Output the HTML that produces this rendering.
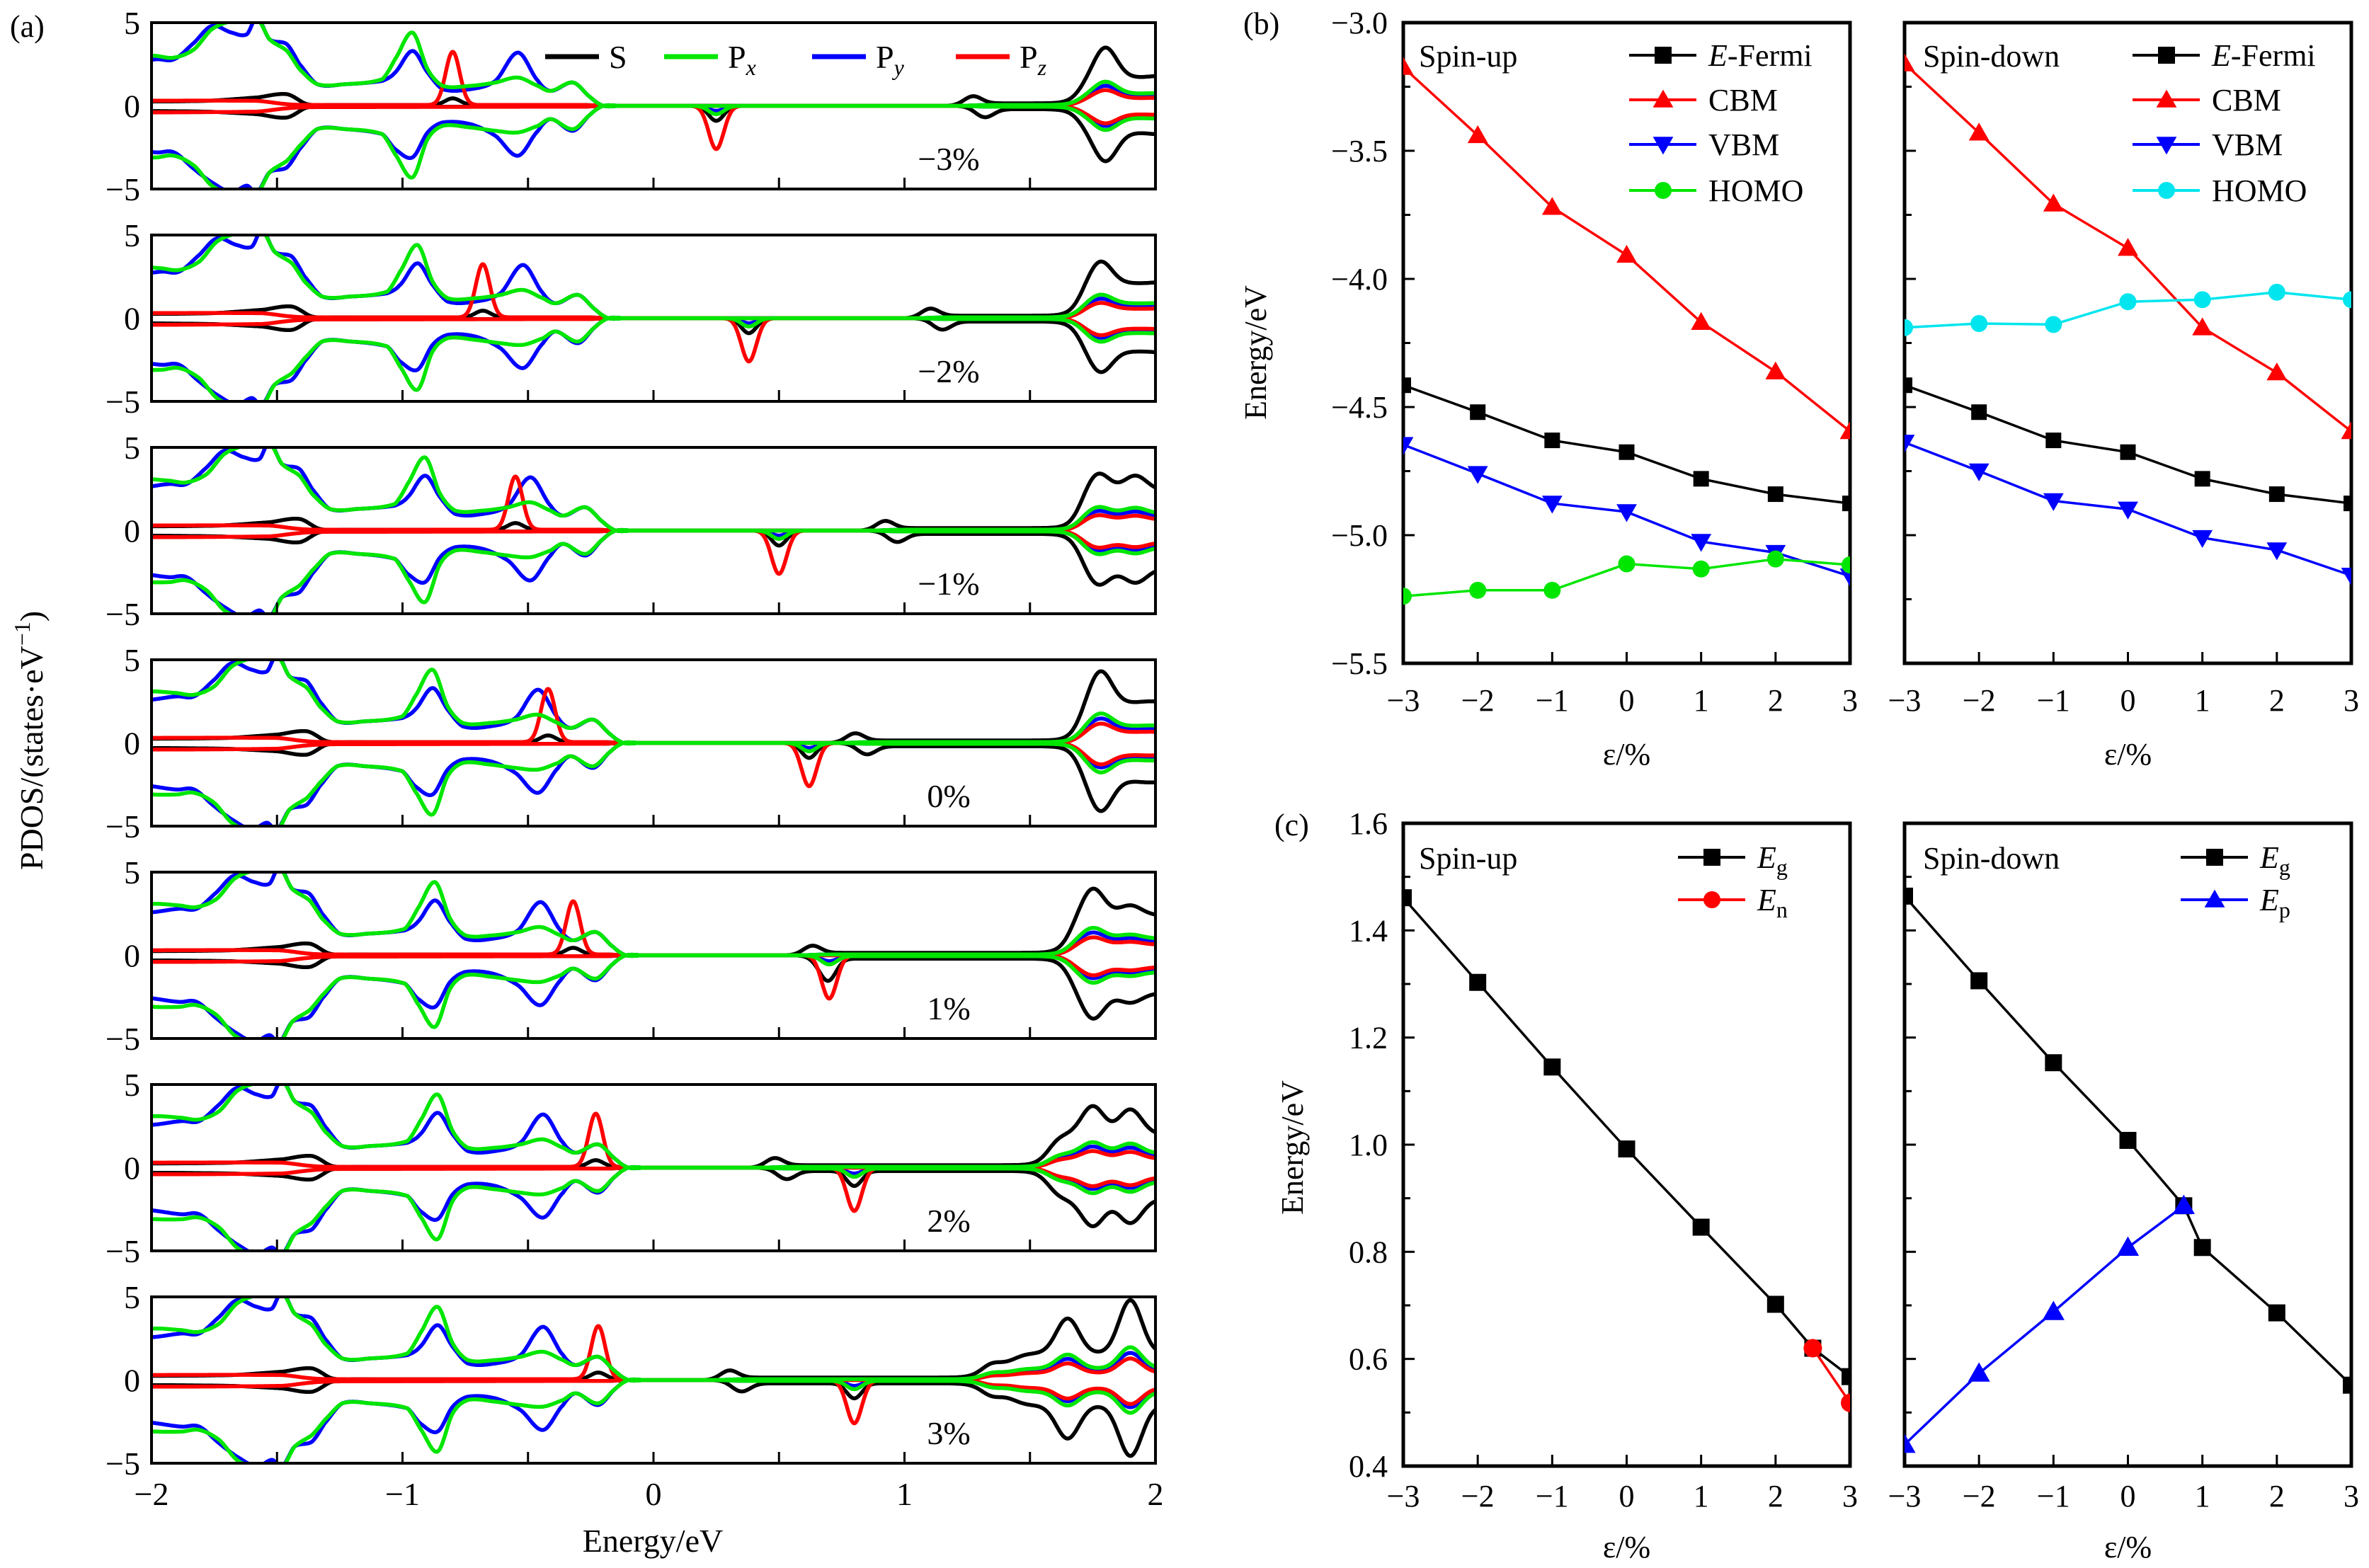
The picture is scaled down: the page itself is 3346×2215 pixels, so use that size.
<!DOCTYPE html>
<html><head><meta charset="utf-8"><style>
html,body{margin:0;padding:0;background:#fff}
svg{display:block;font-family:"Liberation Serif",serif}
</style></head><body>
<svg id="fig" xmlns="http://www.w3.org/2000/svg" width="3346" height="2215" viewBox="0 0 3346 2215">
<rect width="3346" height="2215" fill="#fff"/>
<g id="pa"></g>
<g id="pb"></g>
<g id="pc"></g>
</svg>
<script>
// ---------- Panel (a) data ----------
const strains = ['−3%','−2%','−1%','0%','1%','2%','3%'];
const pdosE = [-2.1,-2.0,-1.9,-1.83,-1.75,-1.68,-1.6,-1.54,-1.5,-1.45,-1.38,-1.33,-1.26,-1.15,-1.0,-0.95,-0.88,-0.82,-0.76,-0.65,-0.55,-0.46,-0.38,-0.33,-0.24,-0.17,-0.12,-0.05,0];
const pyUp = [2.5,2.6,2.8,2.8,3.8,4.8,4.4,4.3,5.3,4.0,3.7,2.5,1.3,1.3,1.5,2.0,3.3,2.0,1.0,1.0,1.5,3.2,1.5,0.9,1.4,0.5,0,0,0];
const pxUp = [3.0,3.1,3.0,2.9,3.4,4.6,5.1,5.2,5.3,4.0,3.3,2.2,1.3,1.3,1.6,2.8,4.4,2.2,1.2,1.2,1.4,1.7,1.2,0.9,1.4,0.5,0,0,0];
const pyDn = [-2.4,-2.6,-2.8,-2.8,-3.8,-4.6,-5.2,-4.8,-5.2,-4.0,-3.7,-2.6,-1.4,-1.4,-1.7,-2.6,-3.1,-1.6,-1.0,-1.1,-1.8,-3.0,-1.5,-0.8,-1.5,-0.5,0,0,0];
const pxDn = [-3.0,-3.1,-3.1,-3.0,-3.6,-4.8,-5.3,-5.3,-5.3,-4.0,-3.3,-2.4,-1.4,-1.4,-1.7,-2.9,-4.3,-2.0,-1.2,-1.3,-1.5,-1.6,-1.2,-0.8,-1.4,-0.5,0,0,0];
const sE = [-2.1,-1.7,-1.5,-1.38,-1.3,-1.2,-0.2,-0.1];
const sUp = [0.25,0.3,0.5,0.7,0.1,0.05,0.05,0];
const sDn = [-0.3,-0.35,-0.5,-0.7,-0.1,-0.05,-0.05,0];
const pzE = [-2.1,-1.5,-1.38,-1.3,-0.2,-0.1];
const pzUpV = [0.3,0.3,0.1,0.05,0.05,0];
const pzDnV = [-0.4,-0.35,-0.15,-0.08,-0.05,0];
const vShift = [-0.08,-0.06,-0.03,0,0.01,0.02,0.02];
const pzPeakUp = [-0.80,-0.68,-0.55,-0.42,-0.32,-0.23,-0.22];
const pzDipDn = [0.25,0.38,0.50,0.62,0.70,0.80,0.80];
const cbBump = [1.27,1.10,0.92,0.80,0.63,0.48,0.30];
const cbOnset = [1.70,1.70,1.70,1.70,1.66,1.58,1.32];
const cbPlat = [1.7,2.1,2.4,2.4,2.4,2.0,1.6];
const cbPeakE = [[1.80,2.02],[1.78,2.05],[1.77,1.92],[1.78,1.98],[1.75,1.90],[1.60,1.75,1.90],[1.40,1.65,1.90]];
const cbPeakH = [[3.5,1.8],[3.4,2.2],[3.4,3.3],[4.3,2.5],[4.0,3.0],[1.5,3.7,3.5],[1.1,3.7,4.8]];
const aTicks = [-2,-1,0,1,2];

// ---------- Panel (b) data ----------
const strainX = [-3,-2,-1,0,1,2,3];
const bTicks = [-3.0,-3.5,-4.0,-4.5,-5.0,-5.5];
const upFermi = [-4.415,-4.52,-4.63,-4.676,-4.78,-4.84,-4.876];
const upCBM = [-3.174,-3.44,-3.72,-3.907,-4.169,-4.362,-4.595];
const upVBM = [-4.647,-4.76,-4.876,-4.909,-5.025,-5.068,-5.16];
const upHOMO = [-5.238,-5.215,-5.215,-5.112,-5.132,-5.093,-5.116];
const dnFermi = [-4.415,-4.52,-4.63,-4.676,-4.78,-4.84,-4.876];
const dnCBM = [-3.16,-3.43,-3.707,-3.88,-4.19,-4.366,-4.595];
const dnVBM = [-4.638,-4.75,-4.866,-4.899,-5.01,-5.058,-5.157];
const dnHOMO = [-4.19,-4.174,-4.178,-4.089,-4.081,-4.052,-4.081];

// ---------- Panel (c) data ----------
const cTicks = [1.6,1.4,1.2,1.0,0.8,0.6,0.4];
const upEgX = [-3,-2,-1,0,1,2,2.5,3];
const upEg = [1.461,1.303,1.145,0.992,0.846,0.702,0.62,0.567];
const upEnX = [2.5,3];
const upEn = [0.62,0.518];
const dnEgX = [-3,-2,-1,0,0.75,1,2,3];
const dnEg = [1.464,1.306,1.153,1.008,0.886,0.808,0.686,0.551];
const dnEpX = [-3,-2,-1,0,0.75];
const dnEp = [0.44,0.573,0.688,0.808,0.886];

const NS='http://www.w3.org/2000/svg';
function mk(tag, attrs, parent){const e=document.createElementNS(NS,tag);for(const k in attrs)e.setAttribute(k,attrs[k]);if(parent)parent.appendChild(e);return e;}
function txt(parent,x,y,s,size,anchor,extra){const t=mk('text',Object.assign({x:x,y:y,'font-size':size,'text-anchor':anchor||'start',fill:'#000'},extra||{}),parent);t.innerHTML=s;return t;}

// ---------- draw (a) ----------
const pa=document.getElementById('pa');
const AX0=214, AX1=1632, AH=235, ATOP0=32, ASTEP=300;
const ax = e => AX0 + (e+2)*(AX1-AX0)/4;
function interp(E,V,x){ if(x<=E[0]) return V[0]; if(x>=E[E.length-1]) return V[V.length-1];
  let i=0; while(E[i+1]<x) i++;
  const t=(x-E[i])/(E[i+1]-E[i]);
  const p0=V[Math.max(i-1,0)],p1=V[i],p2=V[i+1],p3=V[Math.min(i+2,V.length-1)];
  const t2=t*t,t3=t2*t;
  return 0.5*((2*p1)+(-p0+p2)*t+(2*p0-5*p1+4*p2-p3)*t2+(-p0+3*p1-3*p2+p3)*t3);}
const g=(e,c,s)=>Math.exp(-0.5*((e-c)/s)*((e-c)/s));
const sm=(e,c,w)=>1/(1+Math.exp(-(e-c)/w));
function cbS(i,e){let v=cbPlat[i]*sm(e,cbOnset[i],0.025);
  cbPeakE[i].forEach((p,k)=>{v+=(cbPeakH[i][k]-cbPlat[i]*sm(p,cbOnset[i],0.025))*g(e,p,0.045);});return v;}
function val(i,sp,up,e){
  const ev=e-vShift[i];
  let v=0;
  if(sp==='S'){v=interp(sE,up?sUp:sDn,ev);
    if(up){v+=0.4*g(e,pzPeakUp[i],0.03);v+=0.5*g(e,cbBump[i],0.035);v+=0.15*sm(e,cbBump[i],0.02)*(1-sm(e,cbOnset[i],0.02));v+=cbS(i,e);}
    else{v-=0.9*g(e,pzDipDn[i],0.03);v-=0.5*g(e,cbBump[i]+0.05,0.035);v-=0.2*sm(e,cbBump[i],0.02)*(1-sm(e,cbOnset[i],0.02));v-=0.95*cbS(i,e);}
  } else if(sp==='Pz'){v=interp(pzE,up?pzUpV:pzDnV,ev);
    if(up){v+=3.2*g(e,pzPeakUp[i],0.028);v+=0.27*cbS(i,e);}
    else{v-=2.6*g(e,pzDipDn[i],0.03);v-=0.3*cbS(i,e);}
  } else {
    const arr = sp==='Px'?(up?pxUp:pxDn):(up?pyUp:pyDn);
    v = ev<0?interp(pdosE,arr,ev):0;
    const sc = sp==='Px'?0.4:0.33;
    if(up){v+=sc*cbS(i,e);v+=0.05*sm(e,cbBump[i],0.02);}
    else{v-=(sp==='Px'?0.5:0.3)*g(e,pzDipDn[i],0.03);v-=sc*cbS(i,e);v-=0.05*sm(e,cbBump[i],0.02);}
  }
  return v;}
const seriesDef=[['S','#000'],['Py','#0000ff'],['Pz','#ff0000'],['Px','#00e600']];
const defs=mk('defs',{},document.getElementById('fig'));
for(let i=0;i<7;i++){
  const top=ATOP0+i*ASTEP, ay=v=>top+AH/2 - v*(AH/10);
  const cp=mk('clipPath',{id:'clipA'+i},defs); mk('rect',{x:AX0,y:top,width:AX1-AX0,height:AH},cp);
  const grp=mk('g',{'clip-path':'url(#clipA'+i+')'},pa);
  
  
  seriesDef.forEach(([sp,col])=>{[true,false].forEach(up=>{
    let d='';for(let e=-2.02;e<=2.02;e+=0.004){const y=ay(val(i,sp,up,e));d+=(d?'L':'M')+ax(e).toFixed(1)+' '+y.toFixed(1);}
    const p=mk('path',{d:d,fill:'none',stroke:col,'stroke-width':5.5,'stroke-linejoin':'round'},grp);
    
    
  });});
  const fr=mk('rect',{x:AX0,y:top,width:AX1-AX0,height:AH,fill:'none',stroke:'#000','stroke-width':4},pa);
  
  
  for(let e=-1.5;e<2;e+=0.5){mk('line',{x1:ax(e),x2:ax(e),y1:top+AH,y2:top+AH-16,stroke:'#000','stroke-width':3},pa);}
  [[5,'5'],[0,'0'],[-5,'−5']].forEach(([v,s])=>{const t=txt(pa,198,ay(v)+16,s,46,'end');
    
    });
  const sl=txt(pa,1340,top+208,strains[i],46,'middle');
  
  
}
aTicks.forEach(v=>{const t=txt(pa,ax(v),2126,v<0?'−'+(-v):String(v),46,'middle');
  
  });
{const t=txt(pa,922,2192,'Energy/eV',46,'middle');}
{const t=txt(pa,0,0,'PDOS/(states·eV<tspan font-size="32" dy="-18">−1</tspan><tspan dy="18">)</tspan>',46,'middle',{transform:'translate(60,1046) rotate(-90)'});}
{const t=txt(pa,14,52,'(a)',44,'start');}
// legend (a)
[['S','#000',770,'S'],['Px','#00e600',938,'P<tspan font-size="32" dy="10" font-style="italic">x</tspan>'],['Py','#0000ff',1147,'P<tspan font-size="32" dy="10" font-style="italic">y</tspan>'],['Pz','#ff0000',1350,'P<tspan font-size="32" dy="10" font-style="italic">z</tspan>']].forEach(([n,c,x,s])=>{
  const l=mk('line',{x1:x,x2:x+76,y1:80,y2:80,stroke:c,'stroke-width':7},pa);
  
  
  const t=txt(pa,x+90,96,s,46,'start');
  
  
});

// ---------- helpers for b/c ----------
function marker(parent,type,x,y,col,sz){
  let m;
  if(type==='sq') m=mk('rect',{x:x-sz/2,y:y-sz/2,width:sz,height:sz,fill:col},parent);
  else if(type==='ci') m=mk('circle',{cx:x,cy:y,r:sz/2,fill:col},parent);
  else if(type==='tu') m=mk('polygon',{points:`${x},${y-sz*0.6} ${x-sz*0.6},${y+sz*0.45} ${x+sz*0.6},${y+sz*0.45}`,fill:col},parent);
  else m=mk('polygon',{points:`${x},${y+sz*0.6} ${x-sz*0.6},${y-sz*0.45} ${x+sz*0.6},${y-sz*0.45}`,fill:col},parent);
  
  
}
function series(parent,clipId,xf,yf,X,Y,col,type,sz,name){
  const g2=mk('g',{'clip-path':'url(#'+clipId+')'},parent);
  
  
  const pts=X.map((v,k)=>xf(v).toFixed(1)+','+yf(Y[k]).toFixed(1)).join(' ');
  const pl=mk('polyline',{points:pts,fill:'none',stroke:col,'stroke-width':3.5},g2);
  
  
  X.forEach((v,k)=>marker(g2,type,xf(v),yf(Y[k]),col,sz));
}
function frame(parent,L,R,T,B,clipId,name){
  const cp=mk('clipPath',{id:clipId},defs);mk('rect',{x:L,y:T,width:R-L,height:B-T},cp);
  const r=mk('rect',{x:L,y:T,width:R-L,height:B-T,fill:'none',stroke:'#000','stroke-width':5},parent);
  
  
}
function legendRow(parent,x,y,col,type,label,name){
  const l=mk('line',{x1:x,x2:x+95,y1:y,y2:y,stroke:col,'stroke-width':4},parent);
  
  
  marker(parent,type,x+48,y,col,24);
  const t=txt(parent,x+112,y+15,label,44,'start');
  
  
}
const PL=[1982,2690], PW=631;
const sx=(v,L)=>L+(v+3)*PW/6;

// ---------- draw (b) ----------
const pb=document.getElementById('pb');
const BT=32,BB=937; const yb=v=>BT+(-3-v)*(BB-BT)/2.5;
[0,1].forEach(p=>{
  const L=PL[p],R=L+PW;
  frame(pb,L,R,BT,BB,'clipB'+p,p?'spin-down-frame-b':'spin-up-frame-b');
  for(let v=-3.25;v>-5.5;v-=0.25){mk('line',{x1:L,x2:L+(Math.abs((v*2)%1)<1e-6?16:10),y1:yb(v),y2:yb(v),stroke:'#000','stroke-width':3},pb);}
  strainX.slice(1,6).forEach(v=>mk('line',{x1:sx(v,L),x2:sx(v,L),y1:BB,y2:BB-16,stroke:'#000','stroke-width':3},pb));
  strainX.forEach(v=>{const t=txt(pb,sx(v,L),1004,v<0?'−'+(-v):String(v),44,'middle');
    
    });
  const xt=txt(pb,L+PW/2,1080,'ε/%',44,'middle');
  
  
  const xf=v=>sx(v,L);
  const D=p?[dnFermi,dnCBM,dnVBM,dnHOMO]:[upFermi,upCBM,upVBM,upHOMO];
  const hc=p?'#00e5ee':'#00e600';
  series(pb,'clipB'+p,xf,yb,strainX,D[0],'#000','sq',22,'e-fermi-series');
  series(pb,'clipB'+p,xf,yb,strainX,D[1],'#ff0000','tu',24,'cbm-series');
  series(pb,'clipB'+p,xf,yb,strainX,D[2],'#0000ff','td',24,'vbm-series');
  series(pb,'clipB'+p,xf,yb,strainX,D[3],hc,'ci',24,'homo-series');
  const st=txt(pb,p?2716:2004,94,p?'Spin-down':'Spin-up',44,'start');
  
  
  const lx=p?3012:2301;
  legendRow(pb,lx,78,'#000','sq','<tspan font-style="italic">E</tspan>-Fermi','legend-e-fermi');
  legendRow(pb,lx,141,'#ff0000','tu','CBM','legend-cbm');
  legendRow(pb,lx,204,'#0000ff','td','VBM','legend-vbm');
  legendRow(pb,lx,269,hc,'ci','HOMO','legend-homo');
});
bTicks.forEach(v=>{const t=txt(pb,1960,yb(v)+15,'−'+(-v).toFixed(1),44,'end');
  
  });
{const t=txt(pb,0,0,'Energy/eV',44,'middle',{transform:'translate(1788,498) rotate(-90)'});}
{const t=txt(pb,1756,48,'(b)',44,'start');}

// ---------- draw (c) ----------
const pc=document.getElementById('pc');
const CT=1163,CB=2071; const yc=v=>CT+(1.6-v)*(CB-CT)/1.2;
[0,1].forEach(p=>{
  const L=PL[p],R=L+PW;
  frame(pc,L,R,CT,CB,'clipC'+p,p?'spin-down-frame-c':'spin-up-frame-c');
  for(let k=1;k<12;k++){const v=1.6-k*0.1;mk('line',{x1:L,x2:L+(k%2===0?16:10),y1:yc(v),y2:yc(v),stroke:'#000','stroke-width':3},pc);}
  strainX.slice(1,6).forEach(v=>mk('line',{x1:sx(v,L),x2:sx(v,L),y1:CB,y2:CB-16,stroke:'#000','stroke-width':3},pc));
  strainX.forEach(v=>{const t=txt(pc,sx(v,L),2128,v<0?'−'+(-v):String(v),44,'middle');
    
    });
  const xt=txt(pc,L+PW/2,2200,'ε/%',44,'middle');
  
  
  const xf=v=>sx(v,L);
  if(!p){
    series(pc,'clipC0',xf,yc,upEgX,upEg,'#000','sq',24,'eg-series-up');
    series(pc,'clipC0',xf,yc,upEnX,upEn,'#ff0000','ci',26,'en-series');
  } else {
    series(pc,'clipC1',xf,yc,dnEgX,dnEg,'#000','sq',24,'eg-series-down');
    series(pc,'clipC1',xf,yc,dnEpX,dnEp,'#0000ff','tu',26,'ep-series');
  }
  const st=txt(pc,p?2716:2004,1227,p?'Spin-down':'Spin-up',44,'start');
  
  
  const lx=p?3080:2370;
  legendRow(pc,lx,1211,'#000','sq','<tspan font-style="italic">E</tspan><tspan font-size="32" dy="10">g</tspan>','legend-eg');
  if(!p) legendRow(pc,lx,1271,'#ff0000','ci','<tspan font-style="italic">E</tspan><tspan font-size="32" dy="10">n</tspan>','legend-en');
  else legendRow(pc,lx,1271,'#0000ff','tu','<tspan font-style="italic">E</tspan><tspan font-size="32" dy="10">p</tspan>','legend-ep');
});
cTicks.forEach(v=>{const t=txt(pc,1960,yc(v)+15,v.toFixed(1),44,'end');
  
  });
{const t=txt(pc,0,0,'Energy/eV',44,'middle',{transform:'translate(1840,1621) rotate(-90)'});}
{const t=txt(pc,1800,1180,'(c)',44,'start');}
</script>
</body></html>
